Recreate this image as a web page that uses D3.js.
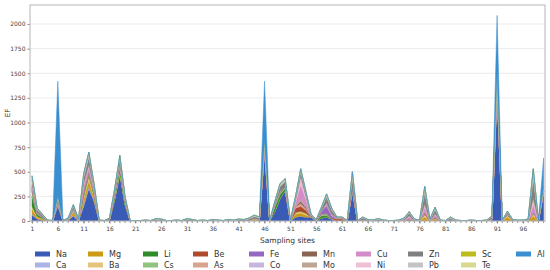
<!DOCTYPE html>
<html>
<head>
<meta charset="utf-8">
<script src="https://cdn.jsdelivr.net/npm/d3@7"></script>
<style>
  html, body { margin: 0; padding: 0; background: #fff; }
  #chart { width: 550px; height: 270px; }
</style>
</head>
<body>
<div id="chart"></div>
<script>
// 1. DATA (EF per sampling site, sites 1..100)
const sites = d3.range(1, 101);
const elements = ["Na", "Ca", "Mg", "Ba", "Li", "Cs", "Be", "As", "Fe", "Co",
  "Mn", "Mo", "Cu", "Ni", "Zn", "Pb", "Sc", "Te", "Al"];
const xTicks = [1, 6, 11, 16, 21, 26, 31, 36, 41, 46, 51, 56, 61, 66, 71, 76, 81, 86, 91, 96];
const yTicks = [0, 250, 500, 750, 1000, 1250, 1500, 1750, 2000];

const Na = [60,20,10,0,0,150,0,5,50,0, 150,330,200,0,0,10,220,470,170,0,
  0,0,0,0,0,0,0,0,0,0, 0,0,0,0,0,0,0,0,0,0, 0,0,0,0,10,700,0,100,230,310,
  0,40,50,40,40,0,30,40,20,0, 0,0,300,0,10,0,0,0,0,0, 0,0,0,0,0,0,0,0,0,0,
  0,0,0,0,0,0,0,0,0,10, 1300,0,0,0,0,0,0,0,0,300];
const Ca = [10,0,0,0,0,20,0,0,10,0, 20,20,10,0,0,0,0,15,0,0,
  0,0,0,0,0,0,0,0,0,0, 0,0,0,0,0,0,0,0,0,0, 0,0,0,0,0,20,0,0,0,0,
  0,0,0,0,0,0,0,0,0,0, 0,0,10,0,0,0,0,0,0,0, 0,0,0,0,0,0,0,0,0,0,
  0,0,0,0,0,0,0,0,0,0, 30,0,0,0,0,0,0,0,0,0];
const Mg = [50,15,10,0,0,10,0,5,30,0, 50,60,30,0,0,0,10,10,0,0,
  0,0,0,0,0,0,0,0,0,0, 0,0,0,0,0,0,0,0,0,0, 0,0,5,15,0,10,0,0,0,0,
  0,30,30,20,0,0,0,0,0,0, 5,0,0,0,0,0,0,0,0,0, 0,0,5,10,0,0,40,0,20,0,
  0,0,0,0,0,0,0,0,0,10, 20,0,40,0,0,0,0,50,0,0];
const Ba = [30,10,5,0,0,0,0,0,20,0, 30,50,20,0,0,0,0,10,0,0,
  0,0,0,0,0,0,0,0,0,0, 0,0,0,0,0,0,0,0,0,0, 0,0,0,10,0,0,0,0,0,0,
  0,20,20,20,0,0,0,0,0,0, 0,0,0,0,0,0,0,0,0,0, 0,0,0,0,0,0,30,0,10,0,
  0,0,0,0,0,0,0,0,0,0, 10,0,25,0,0,0,0,30,0,0];
const Li = [100,20,10,0,0,10,0,0,10,0, 20,20,20,0,0,5,30,40,20,0,
  0,0,0,0,0,0,0,0,0,0, 0,0,0,0,0,0,0,0,0,0, 0,0,0,0,5,10,0,40,40,20,
  0,0,0,0,0,0,20,15,0,0, 0,0,10,0,0,0,0,0,0,0, 0,0,0,0,0,0,0,0,0,0,
  0,0,0,0,0,0,0,0,0,0, 10,0,0,0,0,0,0,0,0,0];
const Cs = [50,10,5,0,0,0,0,0,5,0, 10,10,10,0,0,0,20,30,20,0,
  0,0,0,0,0,0,0,0,0,0, 0,0,0,0,0,0,0,0,0,0, 0,0,0,0,0,0,0,20,20,10,
  0,0,0,0,0,0,20,20,0,0, 0,0,0,0,0,0,0,0,0,0, 0,0,0,0,0,0,0,0,0,0,
  0,0,0,0,0,0,0,0,0,0, 0,0,0,0,0,0,0,0,0,0];
const Be = [10,0,0,0,0,0,0,0,0,0, 0,0,0,0,0,0,0,0,0,0,
  0,0,0,0,0,0,0,0,0,0, 0,0,0,0,0,0,0,0,0,0, 0,0,0,0,0,0,0,0,0,0,
  0,40,50,30,5,0,0,0,0,20, 15,0,0,0,0,0,0,0,0,0, 0,0,0,10,0,0,10,0,10,0,
  0,0,0,0,0,0,0,0,0,0, 0,0,10,0,0,0,0,10,0,0];
const As = [10,0,0,0,0,0,0,0,0,0, 0,0,0,0,0,0,0,0,0,0,
  0,0,0,0,0,0,0,0,0,0, 0,0,0,0,0,0,0,0,0,0, 0,0,0,0,0,0,0,0,0,0,
  0,20,30,20,0,0,0,0,0,10, 10,0,0,0,0,0,0,0,0,0, 0,0,0,0,0,0,10,0,0,0,
  0,0,0,0,0,0,0,0,0,0, 0,0,0,0,0,0,0,0,0,0];
const Fe = [10,0,0,0,0,0,0,0,0,0, 30,20,10,0,0,0,0,0,0,0,
  0,0,0,0,0,0,0,0,0,0, 0,0,0,0,0,0,0,0,0,0, 0,0,0,0,0,0,0,0,10,0,
  0,0,0,0,0,0,30,80,30,0, 0,0,0,0,0,0,0,0,0,0, 0,0,0,0,0,0,0,0,0,0,
  0,0,0,0,0,0,0,0,0,0, 0,0,0,0,0,0,0,0,0,0];
const Co = [5,0,0,0,0,0,0,0,0,0, 10,10,0,0,0,0,0,0,0,0,
  0,0,0,0,0,0,0,0,0,0, 0,0,0,0,0,0,0,0,0,0, 0,0,0,0,0,0,0,0,0,0,
  0,0,0,0,0,0,0,20,10,0, 0,0,0,0,0,0,0,0,0,0, 0,0,0,0,0,0,0,0,0,0,
  0,0,0,0,0,0,0,0,0,0, 0,0,0,0,0,0,0,0,0,0];
const Mn = [10,5,0,0,0,0,0,0,0,0, 0,0,0,0,0,0,0,0,0,0,
  0,0,0,0,0,0,0,0,0,0, 0,0,0,0,0,0,0,0,0,0, 0,0,0,0,0,0,0,0,0,0,
  0,0,20,10,0,0,0,0,0,0, 0,0,0,0,0,0,0,0,0,0, 0,0,0,0,0,0,0,0,0,0,
  0,0,0,0,0,0,0,0,0,0, 0,0,0,0,0,0,0,0,0,0];
const Mo = [10,5,0,0,0,0,0,0,0,0, 0,0,0,0,0,0,0,0,0,0,
  0,0,0,0,0,0,0,0,0,0, 0,0,0,0,0,0,0,0,0,0, 0,0,0,0,0,0,0,0,0,0,
  0,0,20,10,0,0,0,10,0,0, 0,0,0,0,0,0,0,0,0,0, 0,0,0,0,0,0,0,0,0,0,
  0,0,0,0,0,0,0,0,0,0, 0,0,0,0,0,0,0,0,0,0];
const Cu = [10,5,0,0,0,0,0,0,0,0, 40,30,20,0,0,0,0,0,0,0,
  0,0,0,0,0,0,0,0,0,0, 0,0,0,0,0,0,0,0,0,0, 0,0,0,0,0,0,0,0,0,0,
  0,40,150,70,0,0,0,0,10,0, 0,0,0,0,0,0,0,0,0,0, 0,0,5,20,0,0,50,0,20,0,
  0,0,0,0,0,0,0,0,0,0, 0,0,0,0,0,0,0,80,0,0];
const Ni = [10,0,0,0,0,0,0,0,0,0, 20,20,10,0,0,0,0,0,0,0,
  0,0,0,0,0,0,0,0,0,0, 0,0,0,0,0,0,0,0,0,0, 0,0,0,0,0,0,0,0,0,0,
  0,20,80,30,0,0,0,0,0,0, 0,0,0,0,0,0,0,0,0,0, 0,0,0,10,0,0,30,0,10,0,
  0,0,0,0,0,0,0,0,0,0, 0,0,0,0,0,0,0,60,0,0];
const Zn = [50,25,20,5,5,40,5,10,25,10, 60,80,30,5,5,10,30,60,25,5,
  5,5,5,5,15,10,5,5,5,5, 15,10,5,5,5,10,5,5,10,5, 10,10,15,20,15,50,5,25,50,60,
  5,25,50,30,15,10,25,60,40,5, 5,5,110,5,20,10,5,15,5,5, 5,5,10,30,10,5,120,10,45,5,
  5,25,5,5,5,5,5,5,5,20, 90,5,15,10,5,5,10,200,5,20];
const Pb = [25,15,10,5,0,20,0,10,15,10, 40,40,20,5,0,5,20,30,15,0,
  0,0,5,0,10,10,0,0,5,0, 10,5,0,5,0,5,5,0,5,5, 10,5,10,15,10,30,5,15,30,30,
  5,15,30,20,10,5,15,30,20,5, 5,0,70,0,10,5,5,10,5,0, 0,5,10,15,10,5,60,10,25,5,
  0,15,5,0,0,5,0,0,5,10, 50,0,10,5,5,5,10,100,5,20];
const Sc = [5,0,0,0,0,0,0,0,0,0, 0,10,0,0,0,0,0,0,0,0,
  0,0,0,0,0,0,0,0,0,0, 0,0,0,0,0,0,0,0,0,0, 0,0,0,0,0,0,0,0,0,0,
  0,0,0,0,0,0,0,0,0,0, 0,0,0,0,0,0,0,0,0,0, 0,0,0,0,0,0,0,0,0,0,
  0,0,0,0,0,0,0,0,0,0, 0,0,0,0,0,0,0,0,0,0];
const Te = [5,0,0,0,0,0,0,0,0,0, 0,0,0,0,0,0,0,0,0,0,
  0,0,0,0,0,0,0,0,0,0, 0,0,0,0,0,0,0,0,0,0, 0,0,0,0,0,0,0,0,0,0,
  0,0,0,0,0,0,0,0,0,0, 0,0,0,0,0,0,0,0,0,0, 0,0,0,0,0,0,0,0,0,0,
  0,0,0,0,0,0,0,0,0,0, 0,0,0,0,0,0,0,0,0,0];
const Al = [0,0,0,0,0,1170,0,0,0,0, 0,0,0,0,0,0,0,0,0,0,
  0,0,0,0,0,0,0,0,0,0, 0,0,0,0,0,0,0,0,0,0, 0,0,0,0,0,600,0,0,0,0,
  0,0,0,0,0,0,0,0,0,0, 0,0,0,0,0,0,0,0,0,0, 0,0,0,0,0,0,0,0,0,0,
  0,0,0,0,0,0,0,0,0,0, 577,0,0,0,0,0,0,0,0,300];

const seriesValues = { Na, Ca, Mg, Ba, Li, Cs, Be, As, Fe, Co, Mn, Mo, Cu, Ni, Zn, Pb, Sc, Te, Al };

// 2. CONFIGURATION
const width = 550;
const height = 270;
const plot = { left: 30, right: 545, top: 5, bottom: 221 };

const colors = {
  Na: "#3a5bb5", Ca: "#aab4e6", Mg: "#cc9a14", Ba: "#e4c47c",
  Li: "#2e8b2a", Cs: "#8fc47e", Be: "#b04a2c", As: "#d9a48e",
  Fe: "#9468c0", Co: "#c6b6de", Mn: "#8a6450", Mo: "#bda595",
  Cu: "#d48cc8", Ni: "#efbfd6", Zn: "#808080", Pb: "#c4c4c4",
  Sc: "#bcbc1c", Te: "#d8d88e", Al: "#3a8fd0",
};

const theme = { text: "#333", tick: "#444", grid: "#e6e6e6", frame: "#b5b5b5" };
const font = "DejaVu Sans, sans-serif";

const svg = d3.select("#chart")
  .append("svg")
  .attr("width", width)
  .attr("height", height)
  .style("font-family", font);

// scales
const x = d3.scaleLinear().domain([1, 100]).range([32, 543.6]);
const y = d3.scaleLinear().domain([0, 2000]).range([plot.bottom, 24]);

// 3. GRID
svg.append("g")
  .selectAll("line")
  .data(yTicks)
  .join("line")
  .attr("x1", plot.left)
  .attr("x2", plot.right)
  .attr("y1", (d) => y(d))
  .attr("y2", (d) => y(d))
  .attr("stroke", theme.grid)
  .attr("stroke-width", 0.8);

// 4. STACKED AREAS
const table = sites.map((s, i) => {
  const row = { site: s };
  elements.forEach((el) => (row[el] = seriesValues[el][i]));
  return row;
});

const stacked = d3.stack().keys(elements)(table);

svg.append("defs")
  .append("clipPath")
  .attr("id", "plot-clip")
  .append("rect")
  .attr("x", plot.left)
  .attr("y", plot.top)
  .attr("width", plot.right - plot.left)
  .attr("height", plot.bottom - plot.top);

const area = d3.area()
  .x((d) => x(d.data.site))
  .y0((d) => y(d[0]))
  .y1((d) => y(d[1]));

svg.append("g")
  .attr("clip-path", "url(#plot-clip)")
  .selectAll("path")
  .data(stacked)
  .join("path")
  .attr("d", area)
  .attr("fill", (d) => colors[d.key])
  .attr("stroke", (d) => colors[d.key])
  .attr("stroke-width", 0.5)
  .attr("stroke-linejoin", "round");

// 5. AXES
const xAxis = d3.axisBottom(x)
  .tickValues(xTicks)
  .tickSize(2.5)
  .tickPadding(3)
  .tickFormat(d3.format("d"));

const gx = svg.append("g")
  .attr("transform", `translate(0,${plot.bottom})`)
  .call(xAxis);

// minor ticks at every site
gx.append("g")
  .selectAll("line")
  .data(sites)
  .join("line")
  .attr("x1", (d) => x(d))
  .attr("x2", (d) => x(d))
  .attr("y1", 0)
  .attr("y2", 2)
  .attr("stroke", theme.tick)
  .attr("stroke-width", 0.6);

const yAxis = d3.axisLeft(y)
  .tickValues(yTicks)
  .tickSize(2.5)
  .tickPadding(2)
  .tickFormat(d3.format("d"));

const gy = svg.append("g")
  .attr("transform", `translate(${plot.left},0)`)
  .call(yAxis);

[gx, gy].forEach((g) => {
  g.select(".domain").remove();
  g.selectAll(".tick line").attr("stroke", theme.tick).attr("stroke-width", 0.6);
  g.selectAll(".tick text")
    .attr("fill", theme.tick)
    .style("font-size", "6px")
    .style("font-family", font);
});

// frame
svg.append("rect")
  .attr("x", plot.left)
  .attr("y", plot.top)
  .attr("width", plot.right - plot.left)
  .attr("height", plot.bottom - plot.top)
  .attr("fill", "none")
  .attr("stroke", theme.frame)
  .attr("stroke-width", 1);

// axis titles
svg.append("text")
  .attr("transform", `translate(10,${(plot.top + plot.bottom) / 2}) rotate(-90)`)
  .attr("text-anchor", "middle")
  .style("font-size", "7px")
  .style("fill", theme.text)
  .text("EF");

svg.append("text")
  .attr("x", (plot.left + plot.right) / 2)
  .attr("y", 243)
  .attr("text-anchor", "middle")
  .style("font-size", "7.5px")
  .style("fill", theme.text)
  .text("Sampling sites");

// 6. LEGEND (10 columns x 2 rows, column-major)
const legendCols = [35, 88, 143, 193, 249, 302, 356, 408, 461, 516];
const legendRows = [254, 265];

const legendItems = svg.append("g")
  .selectAll("g")
  .data(elements)
  .join("g")
  .attr("transform", (d, i) =>
    `translate(${legendCols[Math.floor(i / 2)]},${legendRows[i % 2]})`);

legendItems.append("rect")
  .attr("x", 0)
  .attr("y", -2.5)
  .attr("width", 15)
  .attr("height", 5)
  .attr("fill", (d) => colors[d]);

legendItems.append("text")
  .attr("x", 21)
  .attr("y", 2.8)
  .style("font-size", "8px")
  .style("fill", theme.text)
  .text((d) => d);
</script>
</body>
</html>
